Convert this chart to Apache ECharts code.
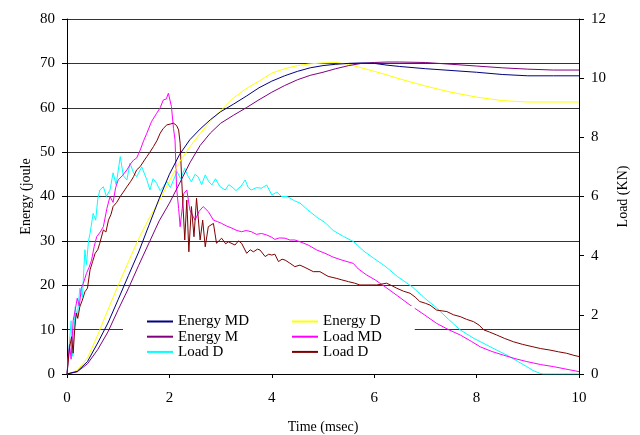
<!DOCTYPE html>
<html>
<head>
<meta charset="utf-8">
<script src="https://cdn.jsdelivr.net/npm/echarts@6/dist/echarts.min.js"></script>
<style>
html,body{margin:0;padding:0;background:#fff;}
#chart{width:640px;height:435px;}
</style>
</head>
<body>
<div id="chart"></div>
<script>
// ---- data ----
const energyTime = [0,0.2,0.4,0.6,0.8,1.0,1.2,1.4,1.6,1.8,2.0,2.2,2.4,2.6,2.8,3.0,3.25,3.5,3.75,4.0,4.25,4.5,4.75,5.0,5.25,5.5,5.75,6.0,6.25,6.5,7.0,7.5,8.0,8.5,9.0,9.5,10];
const energyMD = [0,0.6,2.8,7,11.5,16.8,22.2,27.5,33.5,39.5,45,49.5,52.8,55.2,57.3,59.1,60.8,62.6,64.5,66,67.2,68.2,69.0,69.5,69.8,70.0,70.1,70.0,69.6,69.3,68.8,68.4,68.0,67.5,67.2,67.2,67.2];
const energyD = [0,0.8,3.6,8.8,14.5,20,25.3,30.5,35,39,43.5,47.8,51.2,54.2,57.0,59.3,62.2,64.3,66.0,67.8,68.8,69.5,69.9,70.1,70.2,69.8,69.0,68.2,67.4,66.5,64.9,63.5,62.4,61.6,61.3,61.3,61.3];
const energyM = [0,0.5,2.3,5.5,9.5,14.5,19.3,24.5,29.5,34.5,38.5,43,47.6,51.5,54.3,56.5,58.3,60.0,61.8,63.5,65,66.3,67.3,68.0,68.8,69.5,70.0,70.2,70.3,70.3,70.2,69.8,69.4,69.0,68.7,68.5,68.5];

const loadMDTime = [0,0.05,0.08,0.12,0.16,0.2,0.24,0.28,0.32,0.38,0.43,0.48,0.53,0.58,0.65,0.71,0.78,0.84,0.9,0.95,1.0,1.08,1.17,1.24,1.3,1.36,1.43,1.5,1.56,1.65,1.75,1.82,1.88,1.94,1.98,2.0,2.04,2.08,2.11,2.14,2.18,2.21,2.25,2.28,2.34,2.4,2.5,2.58,2.66,2.76,2.86,2.94,3.02,3.12,3.22,3.32,3.41,3.5,3.6,3.7,3.8,3.9,4.0,4.06,4.15,4.26,4.35,4.45,4.55,4.71,4.88,5.04,5.2,5.37,5.59,5.69,5.85,6.02,6.21,6.45,6.7,6.99,7.22,7.45,7.68,7.9,8.07,8.3,8.52,8.75,8.98,9.25,9.5,9.82,10];
const loadMD = [0,1.0,0.5,1.8,2.16,2.56,2.3,2.9,3.07,3.4,3.6,3.85,4.3,4.64,4.8,4.98,5.6,6.0,5.8,6.3,6.56,6.7,6.9,7.1,7.23,7.3,7.57,7.9,8.14,8.53,8.81,9.0,9.26,9.3,9.49,9.54,9.04,8.3,7.91,6.3,5.6,4.98,5.6,6.1,6.22,5.54,5.2,5.5,5.66,5.49,5.2,5.15,5.09,5.0,4.93,4.85,4.81,4.85,4.81,4.72,4.75,4.7,4.62,4.55,4.6,4.59,4.53,4.53,4.47,4.36,4.19,4.08,3.95,3.85,3.74,3.55,3.35,3.18,2.95,2.65,2.33,1.99,1.71,1.5,1.32,1.1,0.92,0.76,0.64,0.52,0.42,0.32,0.25,0.14,0.08];

const loadDTime = [0,0.04,0.08,0.11,0.14,0.16,0.2,0.25,0.3,0.35,0.38,0.42,0.45,0.51,0.56,0.6,0.64,0.71,0.77,0.84,0.9,0.96,1.04,1.1,1.17,1.23,1.3,1.36,1.46,1.56,1.62,1.68,1.75,1.82,1.88,1.95,2.02,2.08,2.15,2.22,2.3,2.36,2.43,2.5,2.56,2.63,2.7,2.77,2.83,2.9,2.99,3.09,3.16,3.22,3.3,3.4,3.48,3.54,3.6,3.7,3.8,3.9,4.0,4.1,4.19,4.3,4.45,4.55,4.7,4.88,5.04,5.2,5.4,5.6,5.8,6.0,6.21,6.45,6.74,6.99,7.22,7.45,7.68,7.95,8.2,8.4,8.59,8.8,8.98,9.1,9.24,9.3,10];
const loadD = [0,0.9,1.8,0.6,1.5,2.27,1.9,2.9,2.6,4.2,3.7,4.5,4.75,5.43,5.2,5.9,6.22,6.33,6.0,6.22,6.8,6.4,7.35,6.7,6.56,7.13,6.8,6.67,7.0,6.56,6.22,6.6,6.45,6.2,6.33,6.5,6.3,6.56,6.84,6.6,6.95,6.7,6.5,6.75,6.67,6.4,6.73,6.5,6.39,6.6,6.33,6.22,6.4,6.33,6.2,6.35,6.56,6.3,6.22,6.3,6.28,6.39,6.05,6.15,6.0,6.0,5.85,5.78,5.55,5.3,5.12,4.85,4.65,4.47,4.15,3.9,3.65,3.3,2.95,2.56,2.23,1.85,1.49,1.2,0.98,0.8,0.64,0.43,0.25,0.12,0.02,0,0];

const loadD2Time = [0,0.05,0.09,0.12,0.15,0.18,0.21,0.25,0.3,0.35,0.4,0.45,0.5,0.55,0.6,0.64,0.71,0.76,0.81,0.86,0.9,0.97,1.04,1.1,1.17,1.24,1.3,1.36,1.43,1.5,1.56,1.62,1.69,1.76,1.82,1.88,1.95,2.02,2.08,2.14,2.18,2.21,2.24,2.3,2.34,2.38,2.43,2.48,2.53,2.6,2.65,2.7,2.76,2.86,2.92,3.02,3.1,3.15,3.28,3.35,3.41,3.51,3.58,3.64,3.72,3.77,3.87,3.94,4.0,4.06,4.13,4.2,4.26,4.35,4.45,4.55,4.65,4.81,4.94,5.1,5.27,5.37,5.5,5.62,5.72,5.82,6.05,6.15,6.24,6.35,6.44,6.57,6.7,6.8,6.89,7.0,7.09,7.22,7.42,7.55,7.68,7.8,7.94,8.05,8.14,8.25,8.39,8.55,8.72,8.9,9.1,9.25,9.43,9.6,9.76,9.9,10];
const loadD2 = [0,0.9,1.26,0.7,1.5,2.06,1.88,2.27,2.5,2.78,2.9,3.52,3.8,4.08,4.2,4.42,4.87,4.8,5.2,5.4,5.66,5.8,6.0,6.15,6.33,6.5,6.67,6.9,7.01,7.2,7.35,7.5,7.69,7.9,8.14,8.3,8.42,8.45,8.48,8.4,8.25,7.8,6.56,4.53,5.88,4.13,5.66,4.64,5.94,4.53,5.2,4.3,4.98,5.09,4.42,4.59,4.4,4.47,4.36,4.5,4.42,4.08,4.2,4.13,4.22,4.19,3.97,4.05,4.02,4.05,3.8,3.88,3.85,3.75,3.63,3.68,3.6,3.46,3.46,3.3,3.23,3.18,3.12,3.07,3.01,3.01,3.01,3.04,3.07,2.98,2.9,2.8,2.73,2.6,2.45,2.39,2.33,2.16,2.11,2.0,1.94,1.85,1.77,1.65,1.49,1.42,1.32,1.2,1.09,1.0,0.92,0.86,0.81,0.75,0.7,0.63,0.59];

const xTicks = {min: 0, max: 10, interval: 2};
const energyTicks = {min: 0, max: 80, interval: 10};
const loadTicks = {min: 0, max: 12, interval: 2};

// ---- chart ----
const zip = (t, v) => t.map((x, i) => [x, v[i]]);
const FONT = "'Liberation Serif','Times New Roman',serif";
const chart = echarts.init(document.getElementById('chart'), null, {renderer: 'canvas'});

function mkSeries(name, color, t, v, yIdx) {
  return {
    name: name, type: 'line', yAxisIndex: yIdx,
    data: zip(t, v), showSymbol: false, symbol: 'none',
    lineStyle: {color: color, width: 1}, itemStyle: {color: color},
    smooth: false, animation: false
  };
}

function mkLegend(left, padding, names) {
  return {
    orient: 'vertical', left: left, top: 306, itemWidth: 26, itemHeight: 2, itemGap: 0.2,
    icon: 'rect', padding: padding, backgroundColor: '#fff',
    textStyle: {fontFamily: FONT, fontSize: 15, color: '#000', lineHeight: 13.4},
    selectedMode: false, data: names
  };
}

chart.setOption({
  animation: false,
  backgroundColor: '#fff',
  textStyle: {fontFamily: FONT},
  grid: {left: 67, right: 61, top: 19, bottom: 61, containLabel: false, outerBoundsMode: 'none'},
  legend: [
    mkLegend(123, [8, 45, 8, 24], ['Energy MD', 'Energy M', 'Load D']),
    mkLegend(285, [8, 33, 8, 7], ['Energy D', 'Load MD', 'Load D '])
  ],
  xAxis: {
    type: 'value', min: xTicks.min, max: xTicks.max, interval: xTicks.interval,
    name: 'Time (msec)', nameLocation: 'middle', nameGap: 46, nameMoveOverlap: false,
    nameTextStyle: {fontFamily: FONT, fontSize: 14, color: '#000'},
    axisLine: {show: true, lineStyle: {color: '#000', width: 1}},
    axisTick: {show: true, inside: false, length: 4, lineStyle: {color: '#000'}},
    axisLabel: {fontFamily: FONT, fontSize: 15, color: '#000', margin: 17},
    splitLine: {show: false}
  },
  yAxis: [
    {
      type: 'value', position: 'left', min: energyTicks.min, max: energyTicks.max, interval: energyTicks.interval,
      name: 'Energy (joule', nameLocation: 'middle', nameGap: 34, nameRotate: 90, nameMoveOverlap: false,
      nameTextStyle: {fontFamily: FONT, fontSize: 14, color: '#000'},
      axisLine: {show: true, lineStyle: {color: '#000', width: 1}},
      axisTick: {show: true, inside: false, length: 5, lineStyle: {color: '#000'}},
      axisLabel: {fontFamily: FONT, fontSize: 15, color: '#000', margin: 12},
      splitLine: {show: true, lineStyle: {color: '#333', width: 1}}
    },
    {
      type: 'value', position: 'right', min: loadTicks.min, max: loadTicks.max, interval: loadTicks.interval,
      name: 'Load (KN)', nameLocation: 'middle', nameGap: 37, nameRotate: 90, nameMoveOverlap: false,
      nameTextStyle: {fontFamily: FONT, fontSize: 14, color: '#000'},
      axisLine: {show: true, lineStyle: {color: '#000', width: 1}},
      axisTick: {show: true, inside: false, length: 5, lineStyle: {color: '#000'}},
      axisLabel: {fontFamily: FONT, fontSize: 15, color: '#000', margin: 12},
      splitLine: {show: false}
    }
  ],
  series: [
    mkSeries('Load D', '#00FFFF', loadDTime, loadD, 1),
    mkSeries('Load MD', '#FF00FF', loadMDTime, loadMD, 1),
    mkSeries('Load D ', '#800000', loadD2Time, loadD2, 1),
    mkSeries('Energy D', '#FFFF00', energyTime, energyD, 0),
    mkSeries('Energy M', '#800080', energyTime, energyM, 0),
    mkSeries('Energy MD', '#000080', energyTime, energyMD, 0)
  ]
});
</script>
</body>
</html>
